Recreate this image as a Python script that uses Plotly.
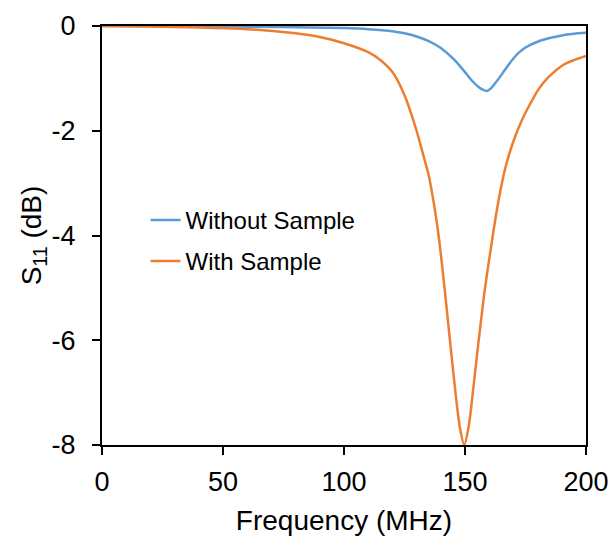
import plotly.graph_objects as go

# Frequency (MHz) and S11 (dB)
freq_without = [0, 25, 50, 75, 100, 110, 120, 125, 130, 135, 140, 145, 148, 150, 153, 156, 157.5, 159, 160.5, 162, 164, 166, 168, 170, 172.5, 175, 180, 185, 190, 195, 200]
s11_without = [0, -0.005, -0.01, -0.02, -0.04, -0.06, -0.1, -0.14, -0.2, -0.29, -0.42, -0.62, -0.77, -0.88, -1.05, -1.18, -1.22, -1.24, -1.2, -1.12, -1.0, -0.87, -0.74, -0.62, -0.5, -0.41, -0.3, -0.23, -0.18, -0.15, -0.13]

freq_with = [0, 20, 40, 60, 80, 90, 100, 110, 115, 120, 125, 130, 132.2, 135, 137, 138.5, 140, 142, 144.2, 146.4, 148, 149.7, 151.5, 152.9, 155.2, 158, 160.5, 162.5, 164.6, 167, 170, 173.5, 177, 180.5, 184, 190.7, 195, 200]
s11_with = [0, -0.01, -0.03, -0.06, -0.14, -0.21, -0.33, -0.5, -0.65, -0.88, -1.32, -2.0, -2.37, -2.85, -3.35, -3.8, -4.35, -5.2, -6.19, -7.14, -7.7, -8.0, -7.65, -7.14, -6.19, -5.1, -4.3, -3.7, -3.15, -2.65, -2.2, -1.8, -1.48, -1.2, -1.0, -0.74, -0.65, -0.57]

x_ticks = [0, 50, 100, 150, 200]
y_ticks = [0, -2, -4, -6, -8]

FONT = "Liberation Sans, Arial, sans-serif"

fig = go.Figure()
fig.add_trace(go.Scatter(x=freq_without, y=s11_without, mode="lines", name="Without Sample",
                         line=dict(color="#5B9BD5", width=2.5, shape="spline", smoothing=0.8),
                         legendgroup="a"))
fig.add_trace(go.Scatter(x=freq_with, y=s11_with, mode="lines", name="With Sample",
                         line=dict(color="#ED7D31", width=2.5, shape="spline", smoothing=0.8),
                         legendgroup="b"))

fig.update_layout(
    width=611, height=537,
    margin=dict(l=102, r=25, t=26, b=92, autoexpand=False),
    paper_bgcolor="white", plot_bgcolor="white",
    font=dict(family=FONT, color="black"),
    showlegend=True,
    legend=dict(x=0.09, y=0.59, xanchor="left", yanchor="top",
                font=dict(size=24, family=FONT, color="black"),
                tracegroupgap=7, bgcolor="rgba(0,0,0,0)", borderwidth=0),
    xaxis=dict(range=[0, 200], tickvals=x_ticks, ticktext=[str(v) for v in x_ticks],
               ticks="outside", ticklen=8, tickwidth=1.5, automargin=False,
               tickcolor="black", showline=True, linecolor="black", linewidth=2, mirror=True,
               showgrid=False, zeroline=False, tickfont=dict(size=27, family=FONT),
               ticklabelstandoff=4,
               title=dict(text="Frequency (MHz)", font=dict(size=28, family=FONT), standoff=14)),
    yaxis=dict(range=[-8, 0], tickvals=y_ticks, ticktext=[str(v) for v in y_ticks],
               ticks="outside", ticklen=8, tickwidth=1.5, automargin=False,
               tickcolor="black", showline=True, linecolor="black", linewidth=2, mirror=True,
               showgrid=False, zeroline=False, tickfont=dict(size=27, family=FONT),
               ticklabelstandoff=11,
               title=dict(text="S<sub>11</sub> (dB)", font=dict(size=28, family=FONT), standoff=2)),
)

fig.write_html("out.html")
